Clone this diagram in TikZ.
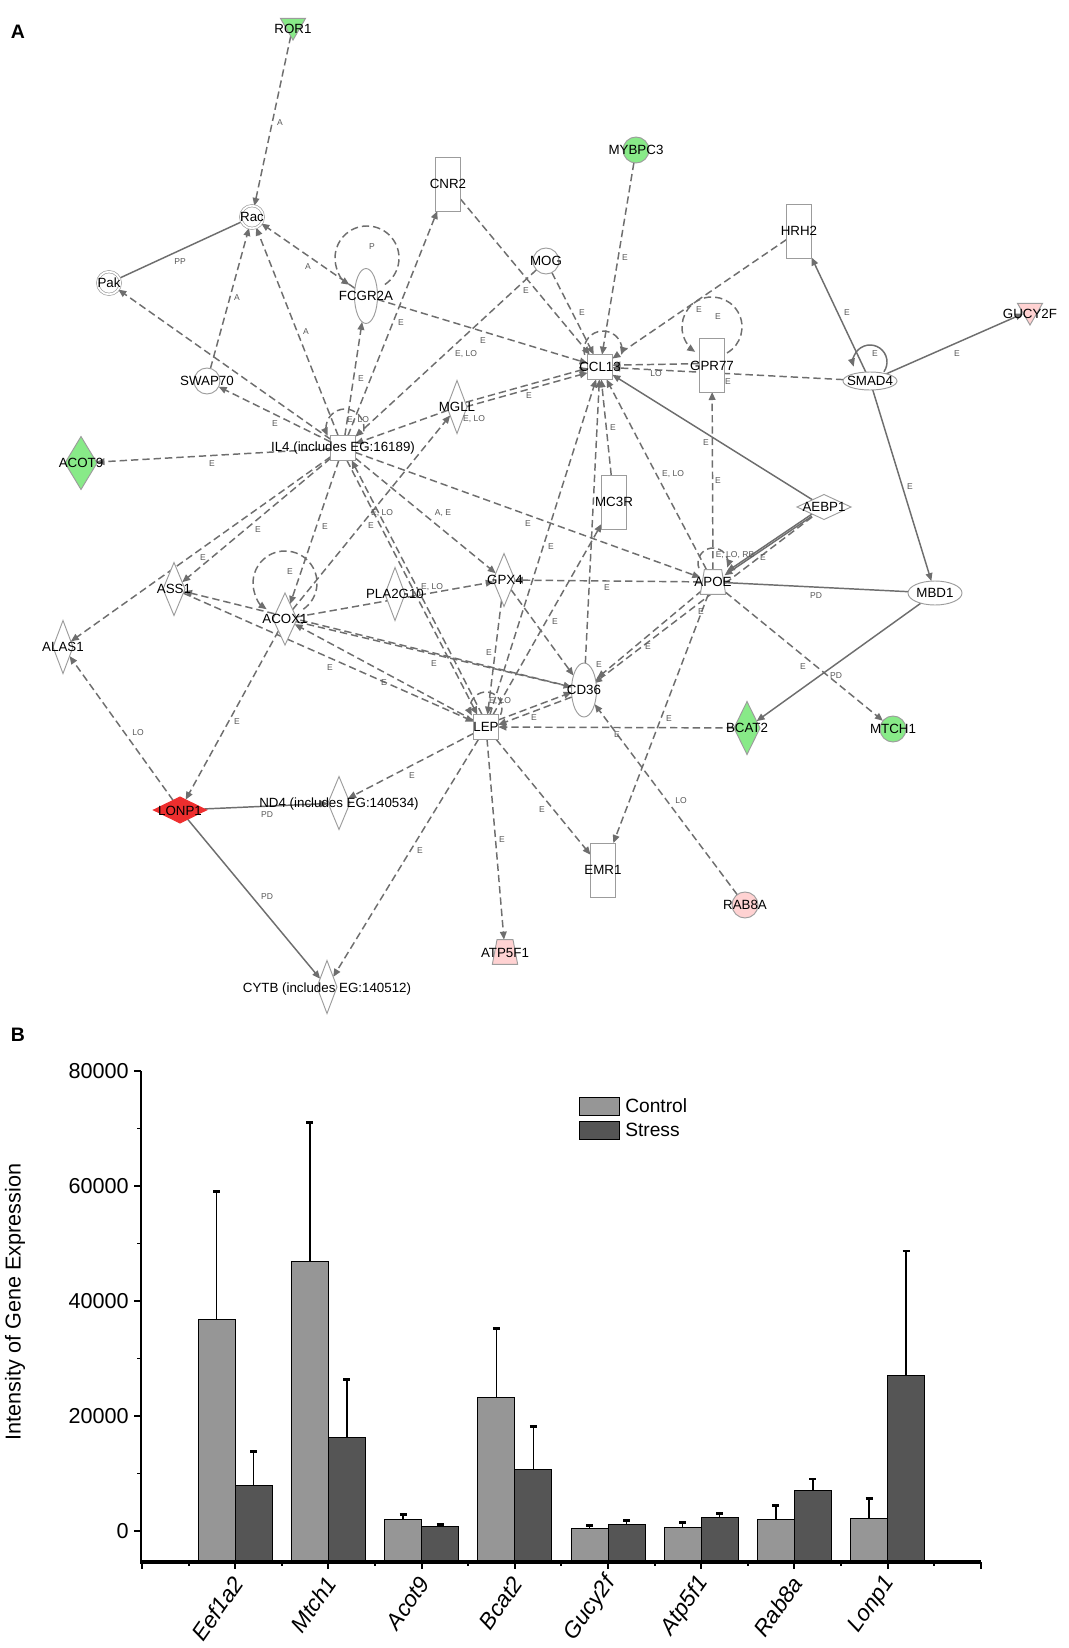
\documentclass[tikz,border=0pt]{standalone}
\usepackage{fontspec}
\setmainfont{Liberation Sans}
\usetikzlibrary{shapes.geometric,arrows.meta,calc}
\pgfdeclarelayer{bg}
\pgfsetlayers{bg,main}
\definecolor{edgec}{HTML}{6E6E6E}
\definecolor{elabc}{HTML}{585858}
\definecolor{nodec}{HTML}{9C9C9C}
\definecolor{grn}{HTML}{88EA88}
\definecolor{pnk}{HTML}{FFD2D2}
\definecolor{rdc}{HTML}{EE2E2E}
\definecolor{ctrl}{HTML}{969696}
\definecolor{strs}{HTML}{555555}
\tikzset{
  shp/.style={draw=nodec, line width=0.7pt, fill=white, inner sep=0pt, outer sep=0pt},
  rbox/.style={shp, rectangle, minimum width=18.75pt, minimum height=40.5pt},
  sqbox/.style={shp, rectangle, minimum width=18.5pt, minimum height=18.5pt},
  cnode/.style={shp, circle, minimum size=19.5pt},
  dnode/.style={shp, circle, double=white, double distance=1.3pt, line width=0.5pt, minimum size=17pt},
  ellnode/.style 2 args={shp, ellipse, minimum width=#1, minimum height=#2},
  dianode/.style 2 args={shp, diamond, minimum width=#1, minimum height=#2},
  trinode/.style={shp, regular polygon, regular polygon sides=3, shape border rotate=180, minimum size=21.7pt},
  trapbase/.style={rectangle, inner sep=0pt, outer sep=0pt, minimum width=19pt, minimum height=18.5pt},
  lab/.style={font=\fontsize{10pt}{12pt}\selectfont, inner sep=0pt},
  elab/.style={font=\fontsize{6.4pt}{7.5pt}\selectfont, text=elabc, inner sep=0pt},
  dl/.style={draw=edgec, line width=1.1pt, dash pattern=on 5.5pt off 3pt, -{Triangle[length=6pt,width=5pt]}},
  dn/.style={draw=edgec, line width=1.1pt, dash pattern=on 5.5pt off 3pt},
  sl/.style={draw=edgec, line width=1.1pt, -{Triangle[length=6pt,width=5pt]}},
  sn/.style={draw=edgec, line width=1.1pt},
  panel/.style={font=\fontsize{14.6pt}{16pt}\selectfont\bfseries, inner sep=0pt},
  ticklab/.style={font=\fontsize{16.2pt}{18pt}\selectfont, inner sep=0pt},
  catlab/.style={font=\fontsize{17pt}{19pt}\selectfont\itshape, inner sep=0pt},
  leglab/.style={font=\fontsize{14.4pt}{16pt}\selectfont, inner sep=0pt},
  ebar/.style={line width=1.1pt, draw=black},
  ecap/.style={line width=2.2pt, draw=black},
  cbar/.style={fill=ctrl, draw=black, line width=0.6pt},
  sbar/.style={fill=strs, draw=black, line width=0.6pt}
}
\begin{document}
\begin{tikzpicture}[x=0.75pt,y=-0.75pt]
\begin{pgfonlayer}{bg}
\fill[white] (0,0) rectangle (1068,1648);
\end{pgfonlayer}
\useasboundingbox (0,0) rectangle (1068,1648);

\node[panel] (pA) at (18,32) {A};
\node[panel] (pB) at (18,1035) {B};

% ---------------- nodes ----------------
\node[trinode, fill=grn] (ROR1) at (293,25.6) {};
\node[trinode, fill=pnk] (GUCY2F) at (1030,310.6) {};
\node[dnode] (Rac) at (252,217) {};
\node[dnode] (Pak) at (109,283) {};
\node[ellnode={17.25pt}{41.25pt}] (FCGR2A) at (366,296) {};
\node[rbox] (CNR2) at (448,184) {};
\node[cnode] (MOG) at (546,261) {};
\node[cnode, fill=grn] (MYBPC3) at (636,150) {};
\node[rbox] (HRH2) at (799,231) {};
\node[cnode] (SWAP70) at (207,381) {};
\node[sqbox] (IL4) at (343,448) {};
\node[dianode={24pt}{39.75pt}, fill=grn] (ACOT9) at (81,463) {};
\node[sqbox] (CCL13) at (600,367) {};
\node[rbox] (GPR77) at (712,365) {};
\node[ellnode={40.5pt}{13.5pt}] (SMAD4) at (870,381) {};
\node[dianode={15pt}{39.75pt}] (MGLL) at (457,407) {};
\node[rbox] (MC3R) at (614,502) {};
\node[dianode={40.5pt}{18.75pt}] (AEBP1) at (824,507) {};
\node[dianode={16.5pt}{39.75pt}] (ASS1) at (174,589) {};
\node[dianode={18pt}{39pt}] (ACOX1) at (285,619) {};
\node[dianode={15pt}{39.75pt}] (PLA2G10) at (395,594) {};
\node[dianode={16.5pt}{39.75pt}] (GPX4) at (504,580) {};
\node[trapbase] (APOE) at (713,582) {};
\filldraw[shp] (APOE.south west) -- (APOE.south east) -- ([xshift=-3pt]APOE.north east) -- ([xshift=3pt]APOE.north west) -- cycle;
\node[ellnode={40.5pt}{18pt}] (MBD1) at (935,593) {};
\node[dianode={15pt}{39.75pt}] (ALAS1) at (63,647) {};
\node[sqbox] (LEP) at (486,727) {};
\node[ellnode={18.75pt}{40.5pt}] (CD36) at (584,690) {};
\node[dianode={19.5pt}{39.75pt}, fill=grn] (BCAT2) at (747,728) {};
\node[cnode, fill=grn] (MTCH1) at (893,729) {};
\node[dianode={39.75pt}{19.5pt}, fill=rdc, draw=rdc] (LONP1) at (180,810) {};
\node[dianode={16.5pt}{39.75pt}] (ND4) at (339,803) {};
\node[rbox] (EMR1) at (603,870) {};
\node[cnode, fill=pnk] (RAB8A) at (745,905) {};
\node[trapbase] (ATP5F1) at (505,952) {};
\filldraw[shp, fill=pnk] (ATP5F1.south west) -- (ATP5F1.south east) -- ([xshift=-3.5pt]ATP5F1.north east) -- ([xshift=3.5pt]ATP5F1.north west) -- cycle;
\node[dianode={15pt}{39.75pt}] (CYTB) at (327,987) {};

% node labels
\node[lab] (tROR1) at (293,29) {ROR1};
\node[lab] (tGUCY2F) at (1030,314) {GUCY2F};
\node[lab] (tRac) at (252,217) {Rac};
\node[lab] (tPak) at (109,283) {Pak};
\node[lab] (tFCGR2A) at (366,296) {FCGR2A};
\node[lab] (tCNR2) at (448,184) {CNR2};
\node[lab] (tMOG) at (546,261) {MOG};
\node[lab] (tMYBPC3) at (636,150) {MYBPC3};
\node[lab] (tHRH2) at (799,231) {HRH2};
\node[lab] (tSWAP70) at (207,381) {SWAP70};
\node[lab] (tIL4) at (343,448) {IL4 (includes EG:16189)};
\node[lab] (tACOT9) at (81,463) {ACOT9};
\node[lab] (tCCL13) at (600,367) {CCL13};
\node[lab] (tGPR77) at (712,366) {GPR77};
\node[lab] (tSMAD4) at (870,381) {SMAD4};
\node[lab] (tMGLL) at (457,407) {MGLL};
\node[lab] (tMC3R) at (614,502) {MC3R};
\node[lab] (tAEBP1) at (824,507) {AEBP1};
\node[lab] (tASS1) at (174,589) {ASS1};
\node[lab] (tACOX1) at (285,619) {ACOX1};
\node[lab] (tPLA2G10) at (395,594) {PLA2G10};
\node[lab] (tGPX4) at (505,580) {GPX4};
\node[lab] (tAPOE) at (713,582) {APOE};
\node[lab] (tMBD1) at (935,593) {MBD1};
\node[lab] (tALAS1) at (63,647) {ALAS1};
\node[lab] (tLEP) at (486,727) {LEP};
\node[lab] (tCD36) at (584,690) {CD36};
\node[lab] (tBCAT2) at (747,728) {BCAT2};
\node[lab] (tMTCH1) at (893,729) {MTCH1};
\node[lab] (tLONP1) at (180,811) {LONP1};
\node[lab] (tND4) at (339,804) {ND4 (includes EG:140534)};
\node[lab] (tEMR1) at (603,870) {EMR1};
\node[lab] (tRAB8A) at (745,905) {RAB8A};
\node[lab] (tATP5F1) at (505,953) {ATP5F1};
\node[lab] (tCYTB) at (327,989) {CYTB (includes EG:140512)};

% edge labels
\foreach \x/\y/\t [count=\i] in {
280/123/A, 180/262/PP, 308/267/A, 372/247/P, 237/298/A, 306/332/A, 401/323/E,
526/291/E, 582/313/E, 625/258/E, 699/310/E, 718/317/E, 847/313/E, 875/354/E,
957/354/E, 483/341/E, 466/354/{E, LO}, 361/379/E, 529/396/E, 474/419/{E, LO},
358/420/{E, LO}, 275/424/E, 212/464/E, 656/374/LO, 728/382/E, 613/428/E,
706/443/E, 718/481/E, 673/474/{E, LO}, 910/487/E, 382/513/{E, LO}, 371/526/E,
443/513/{A, E}, 528/524/E, 258/530/E, 325/527/E, 203/558/E, 551/547/E,
735/555/{E, LO, RB}, 763/558/E, 290/572/E, 432/587/{E, LO}, 607/588/E,
816/596/PD, 701/612/E, 555/622/E, 648/647/E, 489/653/E, 434/664/E, 599/665/E,
330/668/E, 384/683/E, 500/701/{E, LO}, 534/718/E, 669/719/E, 617/735/E,
803/667/E, 836/676/PD, 138/733/LO, 237/722/E, 412/776/E, 681/801/LO,
267/815/PD, 542/810/E, 502/840/E, 420/851/E, 267/897/PD}
  \node[elab] (el\i) at (\x,\y) {\t};

% ---------------- edges ----------------
\begin{pgfonlayer}{bg}
\draw[dl] (ROR1) -- (Rac);
\draw[sn] (Pak) -- (Rac);
\draw[dl] (FCGR2A) -- (Rac);
\draw[dl] (SWAP70) -- (Rac);
\draw[dl] (IL4) -- (Rac);
\draw[dl] (IL4) -- (Pak);
\draw[dl] (IL4) -- (SWAP70);
\draw[dl] (IL4) -- (ACOT9);
\draw[dl] (IL4) -- (FCGR2A);
\draw[dl] (IL4) -- (CNR2);
\draw[dl] (FCGR2A) -- (CCL13);
\draw[dl] (CNR2) -- (CCL13);
\draw[dl] (MOG) -- (CCL13);
\draw[dl] (MOG) -- (IL4);
\draw[dl] (MYBPC3) -- (CCL13);
\draw[dl] (HRH2) -- (CCL13);
\draw[dl, transform canvas={shift={(0pt,1.7pt)}}] (MGLL) -- (CCL13);
\draw[dl, transform canvas={shift={(0pt,-1.7pt)}}] (MGLL) -- (CCL13);
\draw[dl] (MGLL) -- (IL4);
\draw[dl] (ACOX1) -- (MGLL);
\draw[dl, transform canvas={shift={(0pt,1.2pt)}}] (GPR77) -- (CCL13);
\draw[dl] (SMAD4) -- (CCL13);
\draw[dl] (MC3R) -- (CCL13);
\draw[dl] (APOE) -- (CCL13);
\draw[dl] (LEP) -- (CCL13);
\draw[dl] (CD36) -- (CCL13);
\draw[dl] (IL4) -- (APOE);
\draw[dl] (IL4) -- (GPX4);
\draw[dl, transform canvas={shift={(-1.8pt,0pt)}}] (IL4) -- (LEP);
\draw[dl, transform canvas={shift={(1.8pt,0pt)}}] (LEP) -- (IL4);
\draw[dl] (IL4) -- (ASS1);
\draw[dl] (IL4) -- (ALAS1);
\draw[dl] (IL4) -- (ACOX1);
\draw[dl] (ACOX1) -- (LONP1);
\draw[dl] (LONP1) -- (ALAS1);
\draw[dl] (ACOX1) -- (GPX4);
\draw[dl] (LEP) -- (ACOX1);
\draw[dl] (ACOX1) -- (CD36);
\draw[dl] (ASS1) -- (LEP);
\draw[dl] (CD36) -- (ASS1);
\draw[dl] (LEP) -- (ND4);
\draw[dl] (LEP) -- (CYTB);
\draw[dl] (LEP) -- (ATP5F1);
\draw[dl] (LEP) -- (EMR1);
\draw[dl] (LEP) -- (MC3R);
\draw[dl] (BCAT2) -- (LEP);
\draw[dl, transform canvas={shift={(0pt,1.8pt)}}] (LEP) -- (CD36);
\draw[dl, transform canvas={shift={(0pt,-1.8pt)}}] (CD36) -- (LEP);
\draw[dl] (RAB8A) -- (CD36);
\draw[dl] (APOE) -- (EMR1);
\draw[dl, transform canvas={shift={(1.2pt,1.6pt)}}] (APOE) -- (CD36);
\draw[dl, transform canvas={shift={(-1.2pt,-1.6pt)}}] (AEBP1) -- (CD36);
\draw[dl] (APOE) -- (GPR77);
\draw[dl] (APOE) -- (GPX4);
\draw[dl] (APOE) -- (MTCH1);
\draw[dl] (GPX4) -- (LEP);
\draw[dl] (GPX4) -- (CD36);
% solid
\draw[sl] (LONP1) -- (ND4);
\draw[sl] (LONP1) -- (CYTB);
\draw[sl] (AEBP1) -- (CCL13);
\draw[sl, transform canvas={shift={(0.9pt,1.4pt)}}] (AEBP1) -- (APOE);
\draw[sl, transform canvas={shift={(-0.9pt,-1.4pt)}}] (AEBP1) -- (APOE);
\draw[sn] (APOE) -- (MBD1);
\draw[sl] (SMAD4) -- (MBD1);
\draw[sl] (SMAD4) -- (HRH2);
\draw[sl] (SMAD4) -- (GUCY2F);
\draw[sl] (MBD1) -- (BCAT2);
% self loops
\draw[dl] ($(367,258)+(56:32)$) arc[start angle=56, end angle=-236.8, radius=32];
\draw[dl] ($(345,428)+(10:19)$) arc[start angle=10, end angle=-204, radius=19];
\draw[dl] ($(603,350)+(-195:19)$) arc[start angle=-195, end angle=15, radius=19];
\draw[dl] ($(712,327)+(60:30)$) arc[start angle=60, end angle=-236, radius=30];
\draw[sl] ($(870,362)+(35:17)$) arc[start angle=35, end angle=-196, radius=17];
\draw[dl] ($(285,583)+(55:32)$) arc[start angle=55, end angle=-235, radius=32];
\draw[dl] ($(713,563)+(-200:15)$) arc[start angle=-200, end angle=18, radius=15];
\draw[dl] ($(486,708)+(25:16)$) arc[start angle=25, end angle=-208, radius=16];
\end{pgfonlayer}

% ---------------- bar chart ----------------
\draw[line width=1.5pt] (141,1071) -- (141,1562);
\foreach \v/\t in {0/0, 20/20000, 40/40000, 60/60000, 80/80000} {
  \draw[line width=1.5pt] (134,{1531-\v*5.75}) -- (141,{1531-\v*5.75});
  \node[ticklab, anchor=east] (yt\v) at (129,{1531-\v*5.75}) {\t};
}
\foreach \v in {10,30,50,70}
  \draw[line width=1.2pt] (137,{1531-\v*5.75}) -- (141,{1531-\v*5.75});
\foreach \i in {0,...,9}
  \draw[line width=1.5pt] ({142+93.2*\i},1562) -- ({142+93.2*\i},1569);
\foreach \i in {0,...,8}
  \draw[line width=1.5pt] ({188.6+93.2*\i},1562) -- ({188.6+93.2*\i},1566);
\foreach \k/\gname/\cv/\ce/\sv/\se in {
  1/Eef1a2/36.8/59.0/8.0/13.9,
  2/Mtch1/46.95/71.0/16.25/26.3,
  3/Acot9/1.95/2.9/0.85/1.2,
  4/Bcat2/23.2/35.2/10.8/18.1,
  5/Gucy2f/0.5/0.9/1.2/1.8,
  6/Atp5f1/0.7/1.5/2.3/3.1,
  7/Rab8a/1.95/4.4/7.05/9.05,
  8/Lonp1/2.15/5.7/27.0/48.7} {
  \pgfmathsetmacro\cx{142+93.2*\k}
  \pgfmathsetmacro\yc{1531-\cv*5.75}
  \pgfmathsetmacro\yce{1531-\ce*5.75}
  \pgfmathsetmacro\ys{1531-\sv*5.75}
  \pgfmathsetmacro\yse{1531-\se*5.75}
  \draw[ebar] (\cx-18.5,\yc) -- (\cx-18.5,\yce);
  \draw[ecap] (\cx-22,\yce) -- (\cx-15,\yce);
  \draw[ebar] (\cx+18.5,\ys) -- (\cx+18.5,\yse);
  \draw[ecap] (\cx+15,\yse) -- (\cx+22,\yse);
  \draw[cbar] (\cx-37,1562) rectangle (\cx,\yc);
  \draw[sbar] (\cx,1562) rectangle (\cx+37,\ys);
  \node[catlab, anchor=east, rotate=55] (g\k) at (\cx+3,1579) {\gname};
}
\draw[line width=2.3pt] (140,1562) -- (981,1562);
% legend
\draw[cbar] (579,1097) rectangle (619,1115);
\draw[sbar] (579,1121) rectangle (619,1139);
\node[leglab, anchor=west] (lc) at (625,1106) {Control};
\node[leglab, anchor=west] (ls) at (625,1130) {Stress};
\node[ticklab, rotate=90] (ytitle) at (15,1302) {Intensity of Gene Expression};
\end{tikzpicture}
\end{document}
